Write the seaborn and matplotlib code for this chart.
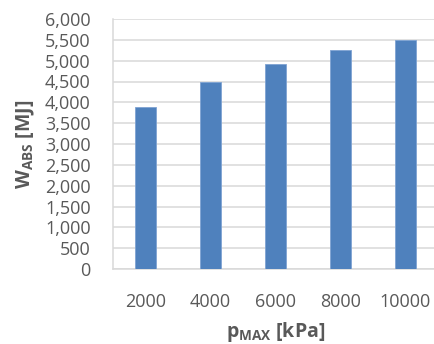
import seaborn as sns
import matplotlib.pyplot as plt
import pandas as pd

# data
p_max = ["2000", "4000", "6000", "8000", "10000"]
w_abs = [3880, 4500, 4920, 5250, 5500]

data = pd.DataFrame({"p_max": p_max, "w_abs": w_abs})

sns.set_style("white")
plt.rcParams["font.family"] = ["Open Sans", "DejaVu Sans"]
plt.rcParams["mathtext.fontset"] = "custom"
plt.rcParams["mathtext.rm"] = "Open Sans:bold"
plt.rcParams["mathtext.bf"] = "Open Sans:bold"

text_col = "#595959"
grid_col = "#d9d9d9"

fig = plt.figure(figsize=(4.35, 3.44), dpi=100)
ax = fig.add_axes([113 / 435, 75 / 344, 325 / 435, 250 / 344])

sns.barplot(data=data, x="p_max", y="w_abs", color="#4F81BD", saturation=1,
            width=0.31, edgecolor="#7fa3d3", linewidth=0.6, ax=ax, zorder=3)

ax.set_ylim(0, 6000)
ax.set_yticks(range(0, 6001, 500))
ax.set_yticklabels([f"{v:,}" for v in range(0, 6001, 500)])
ax.yaxis.grid(True, color=grid_col, linewidth=1.1, zorder=0)
ax.set_axisbelow(True)

for s in ["top", "right"]:
    ax.spines[s].set_visible(False)
for s in ["left", "bottom"]:
    ax.spines[s].set_color(grid_col)
    ax.spines[s].set_linewidth(1.1)

ax.tick_params(axis="y", length=0, pad=16, labelsize=13, labelcolor=text_col)
ax.tick_params(axis="x", length=0, pad=17, labelsize=13, labelcolor=text_col)

ax.set_ylabel(r"W$_{\mathrm{ABS}}$ [MJ]", fontsize=14, fontweight="bold", color=text_col)
ax.set_xlabel(r"p$_{\mathrm{MAX}}$ [kPa]", fontsize=14, fontweight="bold", color=text_col)
ax.yaxis.set_label_coords(-0.235, 0.5)
ax.xaxis.set_label_coords(0.5, -0.205)

plt.savefig("out.png", dpi=100)
plt.close()
